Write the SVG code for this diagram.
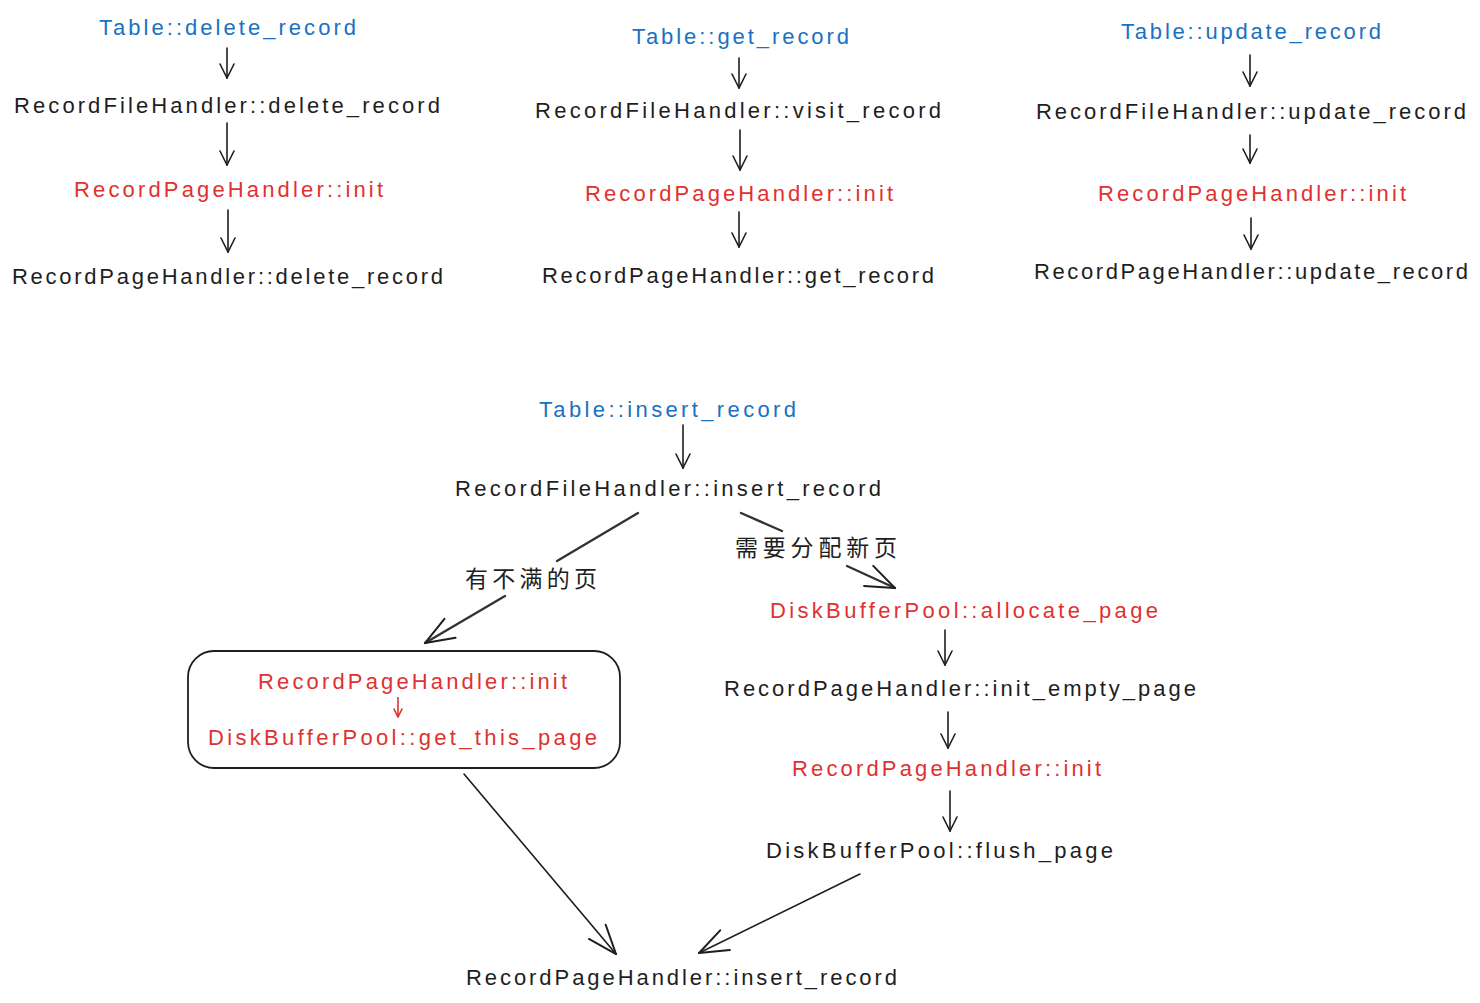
<svg xmlns="http://www.w3.org/2000/svg" width="1480" height="1003" viewBox="0 0 1480 1003">
<style>
  text { font-family: "Liberation Sans", "Noto Sans CJK SC", sans-serif; font-size: 22px; }
  .b { fill: #1971c2; }
  .r { fill: #e03131; }
  .k { fill: #1e1e1e; }
  .zh { font-family: "Noto Sans CJK SC", sans-serif; font-size: 23px; fill: #1e1e1e; }
  .a { stroke: #1e1e1e; stroke-width: 1.6; fill: none; stroke-linecap: round; }
  .as { marker-end: url(#hs); }
  .al { marker-end: url(#hl); }
  .ar { stroke: #e03131; stroke-width: 1.6; fill: none; marker-end: url(#hr); }
  .lab { stroke: #333; stroke-width: 2.4; fill: none; stroke-linecap: round; }
  .box { fill: none; stroke: #1e1e1e; stroke-width: 1.8; }
</style>
<defs>
  <marker id="hs" markerUnits="userSpaceOnUse" viewBox="0 0 16 16" refX="15" refY="8" markerWidth="16" markerHeight="16" orient="auto">
    <path d="M1,1 L15,8 L1,15" fill="none" stroke="#1e1e1e" stroke-width="1.6" stroke-linecap="round"/>
  </marker>
  <marker id="hl" markerUnits="userSpaceOnUse" viewBox="0 0 32 28" refX="31" refY="14" markerWidth="32" markerHeight="28" orient="auto">
    <path d="M2,3 L31,14 L2,25" fill="none" stroke="#1e1e1e" stroke-width="2" stroke-linecap="round"/>
  </marker>
  <marker id="hr" markerUnits="userSpaceOnUse" viewBox="0 0 10 10" refX="9" refY="5" markerWidth="10" markerHeight="10" orient="auto">
    <path d="M1,1 L9,5 L1,9" fill="none" stroke="#e03131" stroke-width="1.6" stroke-linecap="round"/>
  </marker>
</defs>
<rect width="1480" height="1003" fill="#ffffff"/>

<g id="connectors">
  <line class="a as" x1="227" y1="48" x2="227" y2="78"/>
  <line class="a as" x1="227" y1="123" x2="227" y2="165"/>
  <line class="a as" x1="228" y1="210" x2="228" y2="252"/>

  <line class="a as" x1="739" y1="58" x2="739" y2="88"/>
  <line class="a as" x1="740" y1="130" x2="740" y2="170"/>
  <line class="a as" x1="739" y1="212" x2="739" y2="247"/>

  <line class="a as" x1="1250" y1="55" x2="1250" y2="86"/>
  <line class="a as" x1="1250" y1="135" x2="1250" y2="163"/>
  <line class="a as" x1="1251" y1="218" x2="1251" y2="249"/>

  <line class="a as" x1="683" y1="425" x2="683" y2="468"/>
  <line class="lab" x1="638" y1="513" x2="557" y2="561"/>
  <line class="lab al" x1="505" y1="596" x2="425" y2="643"/>
  <line class="lab" x1="741" y1="513" x2="782" y2="531"/>
  <line class="lab al" x1="847" y1="566" x2="895" y2="588"/>

  <line class="a as" x1="945" y1="630" x2="945" y2="665"/>
  <line class="a as" x1="948" y1="712" x2="948" y2="748"/>
  <line class="a as" x1="950" y1="791" x2="950" y2="831"/>

  <line class="ar" x1="398" y1="697" x2="398" y2="717"/>

  <line class="a al" x1="464" y1="774" x2="616" y2="954"/>
  <line class="a al" x1="860" y1="874" x2="699" y2="953"/>
</g>

<g id="col-delete">
  <text class="b" x="99" y="35" textLength="257" lengthAdjust="spacing">Table::delete_record</text>
  <text class="k" x="14" y="113" textLength="426" lengthAdjust="spacing">RecordFileHandler::delete_record</text>
  <text class="r" x="74" y="197" textLength="309" lengthAdjust="spacing">RecordPageHandler::init</text>
  <text class="k" x="12" y="284" textLength="431" lengthAdjust="spacing">RecordPageHandler::delete_record</text>
</g>

<g id="col-get">
  <text class="b" x="632" y="44" textLength="217" lengthAdjust="spacing">Table::get_record</text>
  <text class="k" x="535" y="118" textLength="406" lengthAdjust="spacing">RecordFileHandler::visit_record</text>
  <text class="r" x="585" y="201" textLength="308" lengthAdjust="spacing">RecordPageHandler::init</text>
  <text class="k" x="542" y="283" textLength="392" lengthAdjust="spacing">RecordPageHandler::get_record</text>
</g>

<g id="col-update">
  <text class="b" x="1121" y="39" textLength="260" lengthAdjust="spacing">Table::update_record</text>
  <text class="k" x="1036" y="119" textLength="430" lengthAdjust="spacing">RecordFileHandler::update_record</text>
  <text class="r" x="1098" y="201" textLength="308" lengthAdjust="spacing">RecordPageHandler::init</text>
  <text class="k" x="1034" y="279" textLength="434" lengthAdjust="spacing">RecordPageHandler::update_record</text>
</g>

<g id="insert-top">
  <text class="b" x="539" y="417" textLength="257" lengthAdjust="spacing">Table::insert_record</text>
  <text class="k" x="455" y="496" textLength="426" lengthAdjust="spacing">RecordFileHandler::insert_record</text>
</g>

<g id="label-left">
  <text class="zh" x="465" y="587" textLength="132" lengthAdjust="spacing">有不满的页</text>
</g>
<g id="label-right">
  <text class="zh" x="735" y="556" textLength="162" lengthAdjust="spacing">需要分配新页</text>
</g>

<g id="box-existing">
  <rect class="box" x="188" y="651" width="432" height="117" rx="26" ry="26"/>
  <text class="r" x="258" y="689" textLength="309" lengthAdjust="spacing">RecordPageHandler::init</text>
  <text class="r" x="208" y="745" textLength="389" lengthAdjust="spacing">DiskBufferPool::get_this_page</text>
</g>

<g id="new-page">
  <text class="r" x="770" y="618" textLength="388" lengthAdjust="spacing">DiskBufferPool::allocate_page</text>
  <text class="k" x="724" y="696" textLength="472" lengthAdjust="spacing">RecordPageHandler::init_empty_page</text>
  <text class="r" x="792" y="776" textLength="309" lengthAdjust="spacing">RecordPageHandler::init</text>
  <text class="k" x="766" y="858" textLength="347" lengthAdjust="spacing">DiskBufferPool::flush_page</text>
</g>

<g id="insert-final">
  <text class="k" x="466" y="985" textLength="431" lengthAdjust="spacing">RecordPageHandler::insert_record</text>
</g>
</svg>
